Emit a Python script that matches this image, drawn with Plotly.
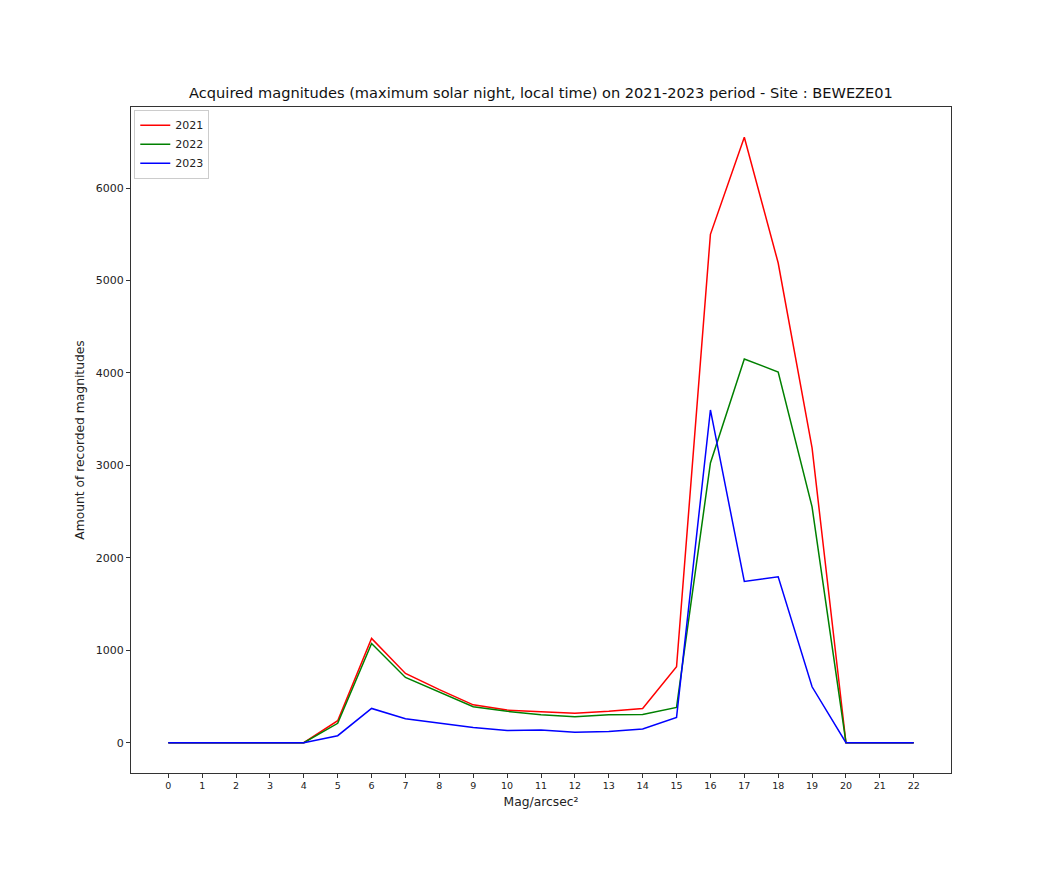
import plotly.graph_objects as go

mags = list(range(23))
tick_labels = [str(m) for m in mags]
v2021 = [0, 0, 0, 0, 0, 238, 1128, 750, 575, 410, 353, 335, 318, 340, 371, 822, 5500, 6550, 5190, 3190, 0, 0, 0]
v2022 = [0, 0, 0, 0, 0, 210, 1074, 706, 545, 389, 340, 303, 281, 303, 306, 382, 3027, 4151, 4011, 2551, 0, 0, 0]
v2023 = [0, 0, 0, 0, 0, 76, 371, 259, 216, 166, 133, 137, 112, 122, 148, 274, 3600, 1744, 1795, 605, 0, 0, 0]

series = [("2021", v2021, "#ff0000"), ("2022", v2022, "#008000"), ("2023", v2023, "#0000ff")]

fig = go.Figure()
for name, vals, col in series:
    fig.add_trace(go.Scatter(x=mags, y=vals, mode="lines", name=name,
                             line=dict(color=col, width=1.5)))

font = "DejaVu Sans, sans-serif"
fig.update_layout(
    width=1056, height=883,
    margin=dict(l=123, r=113, t=99, b=118),
    paper_bgcolor="white", plot_bgcolor="white",
    font=dict(family=font, color="#222222"),
    title=dict(text="Acquired magnitudes (maximum solar night, local time) on 2021-2023 period - Site : BEWEZE01",
               x=0.5, xanchor="center", xref="paper", y=1 - 85 / 883, yanchor="middle",
               font=dict(size=14.6, family=font, color="#111111")),
    showlegend=True,
    legend=dict(x=0.004, y=0.996, xanchor="left", yanchor="top",
                bgcolor="white", bordercolor="#cccccc", borderwidth=1,
                font=dict(size=11, family=font)),
    xaxis=dict(range=[-1.1, 23.1], tickmode="array", tickvals=mags, ticktext=tick_labels,
               showgrid=False, zeroline=False, showline=True, linecolor="#333333", linewidth=1,
               mirror=True, ticks="outside", ticklen=4, tickcolor="#333333",
               tickfont=dict(size=9.5), title=dict(text="Mag/arcsec²", font=dict(size=12.3), standoff=6)),
    yaxis=dict(range=[-327.5, 6877.5], tickvals=[0, 1000, 2000, 3000, 4000, 5000, 6000],
               showgrid=False, zeroline=False, showline=True, linecolor="#333333", linewidth=1,
               mirror=True, ticks="outside", ticklen=4, tickcolor="#333333",
               tickfont=dict(size=11), title=dict(text="Amount of recorded magnitudes", font=dict(size=12.3), standoff=8)),
)

fig.write_html("out.html")
